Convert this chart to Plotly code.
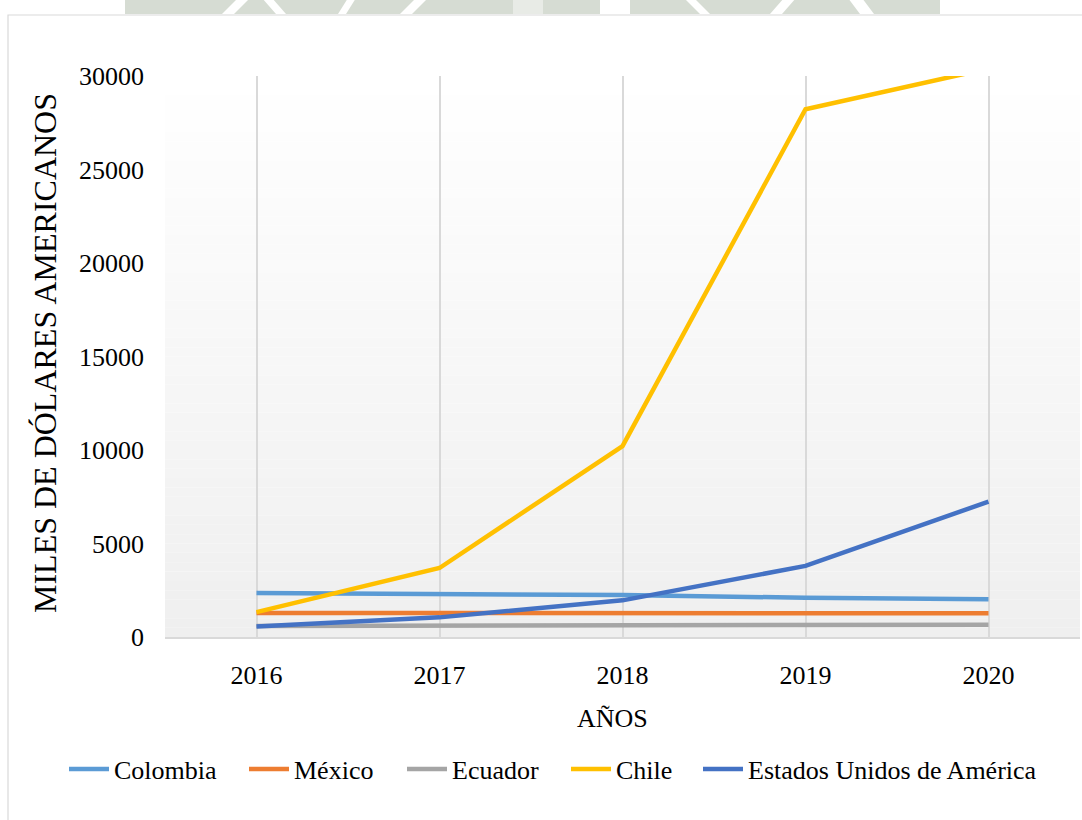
import plotly.graph_objects as go

# ---- data (miles de dólares americanos) ----
years = ["2016", "2017", "2018", "2019", "2020"]
colombia = [2350, 2280, 2240, 2100, 2020]
mexico = [1290, 1290, 1285, 1280, 1270]
ecuador = [590, 600, 620, 650, 660]
chile = [1330, 3690, 10210, 28220, 30400]
eeuu = [560, 1050, 1960, 3800, 7240]

series_names = ["Colombia", "México", "Ecuador", "Chile", "Estados Unidos de América"]
series_values = [colombia, mexico, ecuador, chile, eeuu]
series_colors = ["#5b9bd5", "#ed7d31", "#a5a5a5", "#ffc000", "#4472c4"]

y_ticks = [0, 5000, 10000, 15000, 20000, 25000, 30000]

W, H = 1082, 820
L, R, T, B = 165, 2, 76, 183
PW, PH = W - L - R, H - T - B
FONT = "Liberation Serif"

# left edge (px) where each legend entry's text begins
legend_text_x = [114, 294, 452, 616, 748]


def px_x(x):
    return (x - L) / PW


def px_y(y):
    return (H - B - y) / PH


fig = go.Figure()
legend_layout = {}
for k, (name, vals, col, tx) in enumerate(
        zip(series_names, series_values, series_colors, legend_text_x)):
    lg = "legend" if k == 0 else f"legend{k + 1}"
    fig.add_trace(go.Scatter(
        x=years, y=vals, name=name, mode="lines",
        line=dict(color=col, width=4.5), legend=lg,
    ))
    legend_layout[lg] = dict(
        x=px_x(tx - 50), xanchor="left", y=px_y(769), yanchor="middle",
        font=dict(family=FONT, size=26, color="#000000"),
        bgcolor="rgba(0,0,0,0)", itemwidth=40, orientation="h",
    )

shapes = []
# vertical gradient behind the plot area
steps = 60
for i in range(steps):
    t = (i + 0.5) / steps  # 0 at top, 1 at bottom
    v = round(255 - (255 - 239) * t)
    shapes.append(dict(
        type="rect", xref="x domain", yref="y domain",
        x0=0, x1=1, y0=1 - (i + 1) / steps, y1=1 - i / steps,
        fillcolor=f"rgb({v},{v},{v})", line=dict(width=0), layer="below",
    ))

# outer frame of the chart
shapes.append(dict(
    type="rect", xref="paper", yref="paper",
    x0=px_x(8), x1=px_x(1095), y0=px_y(835), y1=px_y(15),
    line=dict(color="#d9d9d9", width=1.2), fillcolor="rgba(0,0,0,0)", layer="above",
))

# faint page watermark above the frame
wm = "#d6dcd3"
shapes.append(dict(
    type="rect", xref="paper", yref="paper",
    x0=px_x(125), x1=px_x(940), y0=px_y(14), y1=px_y(-2),
    fillcolor=wm, line=dict(width=0), layer="above",
))
for gx, gw, lean in [(222, 12, 16), (276, 10, -14), (338, 8, 10), (400, 12, 16),
                     (600, 30, 0), (700, 10, -16), (770, 12, 14), (860, 14, -12)]:
    path = (f"M {px_x(gx)},{px_y(14)} L {px_x(gx + gw)},{px_y(14)} "
            f"L {px_x(gx + gw + lean)},{px_y(-2)} L {px_x(gx + lean)},{px_y(-2)} Z")
    shapes.append(dict(type="path", xref="paper", yref="paper", path=path,
                       fillcolor="white", line=dict(width=0), layer="above"))
shapes.append(dict(
    type="rect", xref="paper", yref="paper",
    x0=px_x(513), x1=px_x(543), y0=px_y(14), y1=px_y(-2),
    fillcolor="#e8ebe6", line=dict(width=0), layer="above",
))

annotations = [
    dict(text="AÑOS", xref="paper", yref="paper", x=px_x(612), y=px_y(718),
         showarrow=False, xanchor="center", yanchor="middle",
         font=dict(family=FONT, size=26, color="#000000")),
    dict(text="MILES DE DÓLARES AMERICANOS", xref="paper", yref="paper",
         x=px_x(45), y=px_y(353), textangle=-90, showarrow=False,
         xanchor="center", yanchor="middle",
         font=dict(family=FONT, size=32, color="#000000")),
]

fig.update_layout(
    width=W, height=H,
    margin=dict(l=L, r=R, t=T, b=B, autoexpand=False),
    paper_bgcolor="white", plot_bgcolor="white",
    font=dict(family=FONT, size=26, color="#000000"),
    showlegend=True,
    shapes=shapes,
    annotations=annotations,
    hovermode=False,
    **legend_layout,
)

fig.update_xaxes(
    type="category", categoryorder="array", categoryarray=years,
    range=[-0.5, 4.5], showgrid=True, gridcolor="#d9d9d9", gridwidth=1.5,
    showline=True, linecolor="#d9d9d9", linewidth=1.5,
    ticks="", ticklabelstandoff=14, zeroline=False,
    tickfont=dict(family=FONT, size=26, color="#000000"),
)
fig.update_yaxes(
    range=[0, 30000], tickvals=y_ticks, tickformat="d",
    showgrid=False, zeroline=False, showline=False, ticks="",
    ticklabelstandoff=20,
    tickfont=dict(family=FONT, size=26, color="#000000"),
)

fig.write_html("out.html")
